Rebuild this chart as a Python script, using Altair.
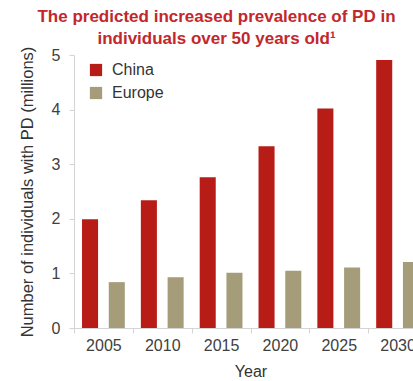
import altair as alt
import pandas as pd

years = ["2005", "2010", "2015", "2020", "2025", "2030"]
china = [1.99, 2.34, 2.76, 3.33, 4.02, 4.91]
europe = [0.84, 0.93, 1.01, 1.05, 1.11, 1.21]
series = ["China", "Europe"]
colors = ["#b81c17", "#a59d79"]

rows = []
for y, c, e in zip(years, china, europe):
    rows.append({"Year": y, "Region": "China", "Value": c})
    rows.append({"Year": y, "Region": "Europe", "Value": e})
df = pd.DataFrame(rows)

chart = alt.Chart(df).mark_bar().encode(
    x=alt.X("Year:N", sort=years,
            scale=alt.Scale(range=[0, 353], paddingInner=0, paddingOuter=0),
            axis=alt.Axis(title="Year", labelAngle=0, tickBand="extent",
                          labelFontSize=16, titleFontSize=16, titleFontWeight="normal",
                          labelColor="#404040", titleColor="#333333",
                          domainColor="#d4d4d4", tickColor="#d4d4d4", tickSize=5,
                          labelPadding=4, titlePadding=10, labelFont="Liberation Sans",
                          titleFont="Liberation Sans")),
    xOffset=alt.XOffset("Region:N", sort=series,
                        scale=alt.Scale(paddingInner=0.4, paddingOuter=0.3)),
    y=alt.Y("Value:Q", scale=alt.Scale(domain=[0, 5], nice=False),
            axis=alt.Axis(title="Number of individuals with PD (millions)",
                          values=[0, 1, 2, 3, 4, 5], grid=False,
                          labelFontSize=16, titleFontSize=16.5, titleFontWeight="normal",
                          labelColor="#404040", titleColor="#333333",
                          domainColor="#d4d4d4", tickColor="#d4d4d4", tickSize=5,
                          labelPadding=9, titlePadding=16, labelFont="Liberation Sans",
                          titleFont="Liberation Sans")),
    color=alt.Color("Region:N", sort=series,
                    scale=alt.Scale(domain=series, range=colors),
                    legend=alt.Legend(title=None, orient="none", legendX=14, legendY=7,
                                      symbolType="square", symbolSize=150,
                                      symbolStrokeWidth=0, symbolOpacity=1,
                                      labelFontSize=16, labelColor="#333333",
                                      labelFont="Liberation Sans", rowPadding=7,
                                      labelOffset=8)),
).properties(
    width=339,
    height=273,
    autosize=alt.AutoSizeParams(type="none"),
    padding={"left": 74, "top": 55, "right": 0, "bottom": 53},
    title=alt.Title(["The predicted increased prevalence of PD in",
                     "individuals over 50 years old\u00b9"],
                    fontSize=17, fontWeight="bold", color="#c3272b",
                    font="Liberation Sans", anchor="middle", dx=-27, dy=10,
                    lineHeight=22, offset=8),
).configure_view(stroke=None)

chart.save("out.html", embed_options={"renderer": "svg", "actions": False})
